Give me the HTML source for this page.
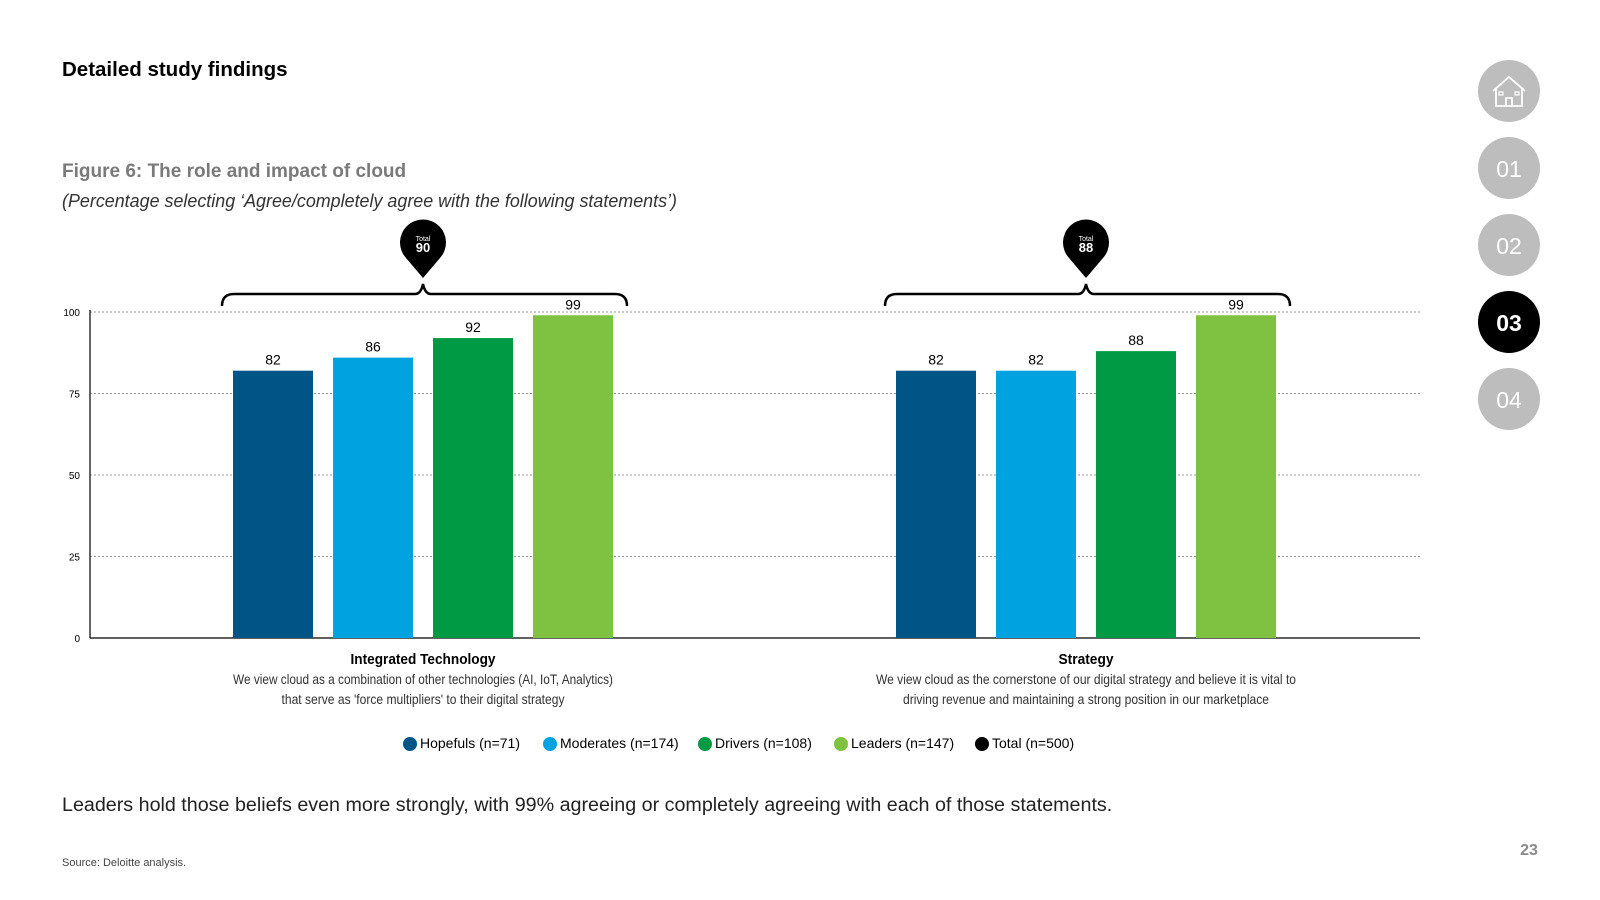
<!DOCTYPE html>
<html><head><meta charset="utf-8">
<style>
html,body{margin:0;padding:0;background:#fff;}
svg{display:block;font-family:"Liberation Sans",sans-serif;}
</style></head>
<body>
<svg id="c" width="1600" height="900" viewBox="0 0 1600 900" xmlns="http://www.w3.org/2000/svg">
<text x="62" y="76" font-size="20.5" font-weight="bold" fill="#000">Detailed study findings</text>
<text x="62" y="177" font-size="19" font-weight="bold" fill="#7a7a7a">Figure 6: The role and impact of cloud</text>
<text x="62" y="207" font-size="18" font-style="italic" fill="#333" textLength="615" lengthAdjust="spacingAndGlyphs">(Percentage selecting ‘Agree/completely agree with the following statements’)</text>
<g id="grid"></g>
<g id="bars"></g>
<g id="cats"></g>
<g id="legend"></g>
<text x="62" y="811" font-size="19.7" fill="#222">Leaders hold those beliefs even more strongly, with 99% agreeing or completely agreeing with each of those statements.</text>
<text x="62" y="866" font-size="11" fill="#444">Source: Deloitte analysis.</text>
<text x="1536" y="855" font-size="16" font-weight="bold" fill="#8a8a8a" text-anchor="middle" transform="translate(-7,0)">23</text>
<g transform="translate(-7,0)">
<g>
<circle cx="1516" cy="91" r="31" fill="#bdbdbd"/>
<path d="M1500 91 L1516 77 L1532 91 M1503 89 V106 H1529 V89 M1513 106 V98 H1519 V106" fill="none" stroke="#fff" stroke-width="1.8"/>
<rect x="1506" y="92" width="4" height="3" fill="none" stroke="#fff" stroke-width="1.2"/><rect x="1522" y="92" width="4" height="3" fill="none" stroke="#fff" stroke-width="1.2"/>
</g>
<g><circle cx="1516" cy="168" r="31" fill="#bdbdbd"/><text x="1516" y="177" font-size="23" fill="#fff" text-anchor="middle">01</text></g>
<g><circle cx="1516" cy="245" r="31" fill="#bdbdbd"/><text x="1516" y="254" font-size="23" fill="#fff" text-anchor="middle">02</text></g>
<g><circle cx="1516" cy="322" r="31" fill="#000"/><text x="1516" y="331" font-size="23" font-weight="bold" fill="#fff" text-anchor="middle">03</text></g>
<g><circle cx="1516" cy="399" r="31" fill="#bdbdbd"/><text x="1516" y="408" font-size="23" fill="#fff" text-anchor="middle">04</text></g>
</g>
</svg>
<script>
const categories = ["Integrated Technology", "Strategy"];
const descriptions = [["We view cloud as a combination of other technologies (AI, IoT, Analytics)","that serve as 'force multipliers' to their digital strategy"],["We view cloud as the cornerstone of our digital strategy and believe it is vital to","driving revenue and maintaining a strong position in our marketplace"]];
const seriesNames = ["Hopefuls (n=71)", "Moderates (n=174)", "Drivers (n=108)", "Leaders (n=147)"];
const hopefuls = [82, 82];
const moderates = [86, 82];
const drivers = [92, 88];
const leaders = [99, 99];
const totals = [90, 88];
const yTicks = [0, 25, 50, 75, 100];
const colors = ["#005587", "#00a3e0", "#009a44", "#7fc241"];
const series = [hopefuls, moderates, drivers, leaders];

const NS = "http://www.w3.org/2000/svg";
const X0 = 90, X1 = 1420, Y0 = 638, Y100 = 312;
const y = v => Y0 - (Y0 - Y100) * v / 100;
const groupCenters = [423, 1086];
const gx = i => groupCenters[i];
const barW = 80, step = 100;
const descLen = [[380, 283], [420, 366]];
function mk(tag, attrs, parent, txt){const e=document.createElementNS(NS,tag);for(const k in attrs)e.setAttribute(k,attrs[k]);if(txt!==undefined)e.textContent=txt;parent.appendChild(e);return e;}
const grid=document.getElementById('grid'), bars=document.getElementById('bars'), cats=document.getElementById('cats'), legend=document.getElementById('legend');

yTicks.forEach(t=>{
  if(t>0){const l=mk('line',{x1:X0,x2:X1,y1:y(t),y2:y(t),stroke:'#999','stroke-dasharray':'2,2','stroke-width':1},grid);
  
  }
  const tx=mk('text',{x:80,y:y(t)+4,'font-size':10,'text-anchor':'end',fill:'#000'},grid,String(t));
  
  
});
const ax=mk('line',{x1:X0,x2:X0,y1:Y100-2,y2:Y0,stroke:'#000','stroke-width':1.2},grid);


const bx=mk('line',{x1:X0,x2:X1,y1:Y0,y2:Y0,stroke:'#000','stroke-width':1.2},grid);



categories.forEach((c,i)=>{
  const cx=gx(i);
  series.forEach((s,j)=>{
    const left=cx-2*step+j*step+(step-barW)/2;
    const r=mk('rect',{x:left,y:y(s[i]),width:barW,height:Y0-y(s[i]),fill:colors[j]},bars);
    
    
    const t=mk('text',{x:left+barW/2,y:y(s[i])-6,'font-size':14,'text-anchor':'middle',fill:'#000'},bars,String(s[i]));
    
    
  });
  const L=cx-201, R=cx+204, by=294;
  const br=mk('path',{d:`M${L} ${by+12} Q${L} ${by} ${L+12} ${by} L${cx-8} ${by} Q${cx-2} ${by} ${cx} ${by-10} Q${cx+2} ${by} ${cx+8} ${by} L${R-12} ${by} Q${R} ${by} ${R} ${by+12}`,fill:'none',stroke:'#000','stroke-width':2.5},bars);
  
  
  const pin=mk('path',{d:`M${cx} ${by-16} L${cx-17} ${by-36} A23 23 0 1 1 ${cx+17} ${by-36} Z`,fill:'#000'},bars);
  
  
  const tl=mk('text',{x:cx,y:by-53,'font-size':7,'text-anchor':'middle',fill:'#fff'},bars,'Total');
  
  
  const tv=mk('text',{x:cx,y:by-42,'font-size':13,'font-weight':'bold','text-anchor':'middle',fill:'#fff'},bars,String(totals[i]));
  
  
  const ct=mk('text',{x:cx,y:664,'font-size':15,'font-weight':'bold','text-anchor':'middle',textLength:c.length>10?145:55,lengthAdjust:'spacingAndGlyphs'},cats,c);
  
  
  descriptions[i].forEach((d,k)=>{
    const dt=mk('text',{x:cx,y:684+k*20,'font-size':14,'text-anchor':'middle',fill:'#333',textLength:descLen[i][k],lengthAdjust:'spacingAndGlyphs'},cats,d);
    
    
  });
});

const legNames=seriesNames.concat(["Total  (n=500)"]);
const legColors=colors.concat(["#000"]);
const legX=[410,550,705,841,982];
legNames.forEach((n,j)=>{
  const g=mk('g',{},legend);
  
  
  mk('circle',{cx:legX[j],cy:744,r:7,fill:legColors[j]},g);
  mk('text',{x:legX[j]+10,y:748,'font-size':14,fill:'#000'},g,n);
});
</script>
</body></html>
